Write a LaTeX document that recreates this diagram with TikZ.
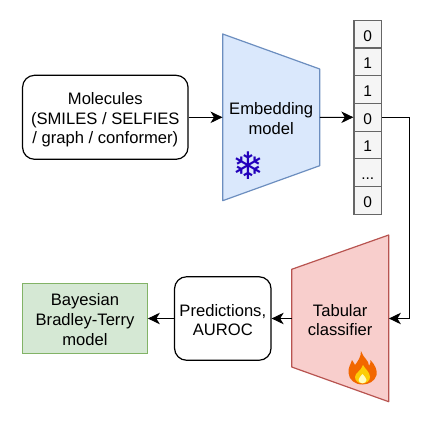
\documentclass[tikz,border=0pt]{standalone}
\usepackage{fontspec}
\setmainfont{Liberation Sans}
\newfontfamily\symbolfont{DejaVu Sans}
\usetikzlibrary{arrows.meta,positioning,calc}

\definecolor{blueFill}{HTML}{DAE8FC}
\definecolor{blueLine}{HTML}{6C8EBF}
\definecolor{redFill}{HTML}{F8CECC}
\definecolor{redLine}{HTML}{B85450}
\definecolor{greenFill}{HTML}{D5E8D4}
\definecolor{greenLine}{HTML}{82B366}
\definecolor{cellFill}{HTML}{F5F5F5}
\definecolor{cellLine}{HTML}{666666}
\definecolor{snowBlue}{HTML}{2200BB}
\newcommand{\celldots}{...}
\newcommand{\topgap}[1]{\rule{0pt}{#1pt}}

\tikzset{
  label16/.style={font=\fontsize{16.6}{19.6}\selectfont, align=center, inner sep=0pt},
  roundbox/.style={label16, draw=black, line width=1.2pt, rounded corners=12pt},
  greenbox/.style={label16, draw=greenLine, fill=greenFill, line width=1.2pt},
  cell/.style={draw=cellLine, fill=cellFill, line width=1.2pt, minimum width=27.7pt,
    minimum height=27.7pt, inner sep=0pt, text height=14pt, text depth=0pt,
    font=\fontsize{15.5}{15.5}\selectfont},
  link/.style={-{Stealth[length=12pt,width=11.5pt,inset=3.5pt]}, line width=1pt, black},
}

\begin{document}
\begin{tikzpicture}[x=1pt,y=-1pt]
    \useasboundingbox (0,0) rectangle (435,422);

    % Trapezoids
    \draw[draw=blueLine, fill=blueFill, line width=1.2pt, line join=round]
      (222.7,34) -- (319.7,69) -- (319.7,165.7) -- (222.7,200.7) -- cycle;
    \draw[draw=redLine, fill=redFill, line width=1.2pt, line join=round]
      (291.7,269.3) -- (388.7,235) -- (388.7,401.7) -- (291.7,367) -- cycle;

    % Boxes
    \node[roundbox, minimum width=165.5pt, minimum height=84pt] (molecules) at (105.3,117.3)
      {\topgap{17}Molecules\\(SMILES / SELFIES\\/ graph / conformer)};
    \node[label16, minimum width=97pt, minimum height=96pt] (embedding) at (271.2,117.3)
      {\topgap{15}Embedding\\model};
    \node[label16, minimum width=97pt, minimum height=96pt] (tabular) at (340.2,318.5)
      {\topgap{15}Tabular\\classifier};
    \node[roundbox, minimum width=96.5pt, minimum height=83.5pt] (predictions) at (222.8,318.5)
      {\topgap{15}Predictions,\\AUROC};
    \node[greenbox, minimum width=124.5pt, minimum height=70pt] (bayesian) at (85,318.5)
      {\topgap{14}Bayesian\\Bradley-Terry\\model};

    % Fingerprint vector
    \foreach \i/\bit in {1/0,2/1,3/1,4/0,5/1,6/\celldots,7/0} {
      \node[cell] (cell\i) at (367.8,{20.3+27.7*(\i-0.5)}) {\bit};
    }

    % Icons
    \node[font=\symbolfont\fontsize{38}{38}\selectfont, text=snowBlue, inner sep=0pt] (snow) at (248.7,165.5) {❄};
    \fill[orange!85!red!95!black] (361,351)
      .. controls (363,358) and (369,360) .. (369,366) .. controls (370,364) and (371,362) .. (370.5,360)
      .. controls (375,365) and (377.5,370) .. (376.5,375) .. controls (375,381) and (369,384.5) .. (362.5,384.5)
      .. controls (355,384.5) and (349,380) .. (348.5,373) .. controls (348,367) and (351,364) .. (352,360)
      .. controls (353.5,362) and (354,363.5) .. (355,365) .. controls (358,361) and (361,357) .. (361,351) -- cycle;
    \fill[yellow!65!orange] (363,365)
      .. controls (365,369) and (370,372) .. (370,377) .. controls (370,381) and (366,383.5) .. (362.5,383.5)
      .. controls (358,383.5) and (355,380.5) .. (355,377) .. controls (355,373) and (361,371) .. (363,365) -- cycle;
    \fill[yellow!25] (362.5,374)
      .. controls (364,376) and (366.5,378) .. (366.5,380) .. controls (366.5,382) and (364.5,383.3) .. (362.5,383.3)
      .. controls (360.5,383.3) and (358.5,382) .. (358.5,380) .. controls (358.5,378) and (361,376) .. (362.5,374) -- cycle;

    % Connectors
    \coordinate (turn) at (409,318.5);
    \draw[link] (molecules) -- (embedding);
    \draw[link] (embedding) -- (cell4);
    \draw[link] (cell4.east) -| (turn) -- (tabular.east);
    \draw[link] (tabular) -- (predictions);
    \draw[link] (predictions) -- (bayesian);
\end{tikzpicture}
\end{document}
